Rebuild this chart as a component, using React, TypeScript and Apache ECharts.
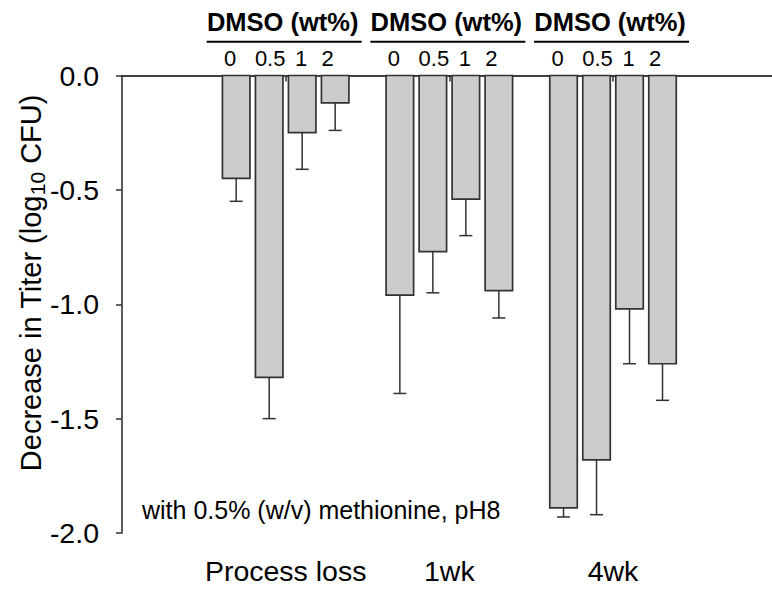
import React, { useEffect, useRef } from "react";
import * as echarts from "echarts";

const categories = ["", "Process loss", "1wk", "4wk", ""];
const groupIndex = [1, 2, 3];
const dmsoLevels = ["0", "0.5", "1", "2"];
const headerText = "DMSO (wt%)";
const meanProcess = [-0.45, -1.32, -0.25, -0.12];
const errProcess = [0.1, 0.18, 0.16, 0.12];
const mean1wk = [-0.96, -0.77, -0.54, -0.94];
const err1wk = [0.43, 0.18, 0.16, 0.12];
const mean4wk = [-1.89, -1.68, -1.02, -1.26];
const err4wk = [0.04, 0.24, 0.24, 0.16];
const yTicks = { min: -2, max: 0, interval: 0.5 };
const yTitle = "Decrease in Titer (log{sub|10} CFU)";
const note = "with 0.5% (w/v) methionine, pH8";

const FONT = '"Liberation Sans", Arial, Helvetica, sans-serif';
const AX = "#333333";

export default function App() {
  const ref = useRef<HTMLDivElement>(null);
  useEffect(() => {
    if (!ref.current) return;
    const chart = echarts.init(ref.current, undefined, { renderer: "svg" });
    const means = [meanProcess, mean1wk, mean4wk];
    const errs = [errProcess, err1wk, err4wk];
    const barData: number[][] = [];
    groupIndex.forEach((g, gi) => {
      dmsoLevels.forEach((_, li) => {
        barData.push([g, li, means[gi][li], errs[gi][li]]);
      });
    });
    const headerData = groupIndex.map((g) => [g, 0]);
    const subOffsets = [-55.5, -15.5, 15.5, 42];

    chart.setOption({
      animation: false,
      textStyle: { fontFamily: FONT },
      grid: {
        left: 122,
        top: 75.5,
        right: -4.7,
        bottom: 56,
        containLabel: false,
        outerBoundsMode: "none",
      },
      xAxis: [
        {
          type: "category",
          data: categories,
          boundaryGap: false,
          axisLine: { show: true, lineStyle: { color: AX, width: 1.6 } },
          axisTick: {
            show: true,
            length: 6,
            interval: (i: number) => i > 0 && i < categories.length - 1,
            lineStyle: { color: AX, width: 1.5 },
          },
          axisLabel: {
            interval: 0,
            color: "#000",
            fontSize: 28.5,
            margin: 23,
            fontFamily: FONT,
          },
          splitLine: { show: false },
        },
        {
          type: "value",
          position: "top",
          min: 0,
          max: 1,
          axisLine: { show: true, onZero: false, lineStyle: { color: AX, width: 1.6 } },
          axisTick: { show: false },
          axisLabel: { show: false },
          splitLine: { show: false },
        },
      ],
      yAxis: {
        type: "value",
        min: yTicks.min,
        max: yTicks.max,
        interval: yTicks.interval,
        axisLine: { show: true, onZero: false, lineStyle: { color: AX, width: 1.6 } },
        axisTick: { show: true, inside: false, length: 6, lineStyle: { color: AX, width: 1.5 } },
        axisLabel: {
          color: "#000",
          fontSize: 28.5,
          margin: 23,
          fontFamily: FONT,
          formatter: (v: number) => v.toFixed(1),
        },
        splitLine: { show: false },
      },
      series: [
        {
          type: "custom",
          xAxisIndex: 0,
          yAxisIndex: 0,
          data: barData,
          encode: { x: 0, y: 2 },
          renderItem: (params: any, api: any) => {
            const cat = api.value(0);
            const lvl = api.value(1);
            const mean = api.value(2);
            const err = api.value(3);
            const base = api.coord([cat, 0]);
            const band = api.coord([cat + 1, 0])[0] - base[0];
            const bottom = api.coord([cat, mean]);
            const errEnd = api.coord([cat, mean - err]);
            const step = band * 0.2016;
            const w = band * 0.168;
            const cx = base[0] + (lvl - 1.5) * step;
            return {
              type: "group",
              children: [
                {
                  type: "line",
                  shape: { x1: cx, y1: bottom[1], x2: cx, y2: errEnd[1] },
                  style: { stroke: AX, lineWidth: 1.5 },
                },
                {
                  type: "line",
                  shape: { x1: cx - 6.5, y1: errEnd[1], x2: cx + 6.5, y2: errEnd[1] },
                  style: { stroke: AX, lineWidth: 1.5 },
                },
                {
                  type: "rect",
                  shape: { x: cx - w / 2, y: base[1], width: w, height: bottom[1] - base[1] },
                  style: { fill: "#cccccc", stroke: AX, lineWidth: 1.7 },
                },
              ],
            };
          },
        },
        {
          type: "custom",
          xAxisIndex: 0,
          yAxisIndex: 0,
          data: headerData,
          encode: { x: 0, y: 1 },
          clip: false,
          renderItem: (params: any, api: any) => {
            const cat = api.value(0);
            const base = api.coord([cat, 0]);
            const children: any[] = [
              {
                type: "text",
                style: {
                  text: headerText,
                  x: base[0] - 3,
                  y: base[1] - 53.5,
                  align: "center",
                  verticalAlign: "middle",
                  fill: "#000",
                  fontSize: 25.5,
                  fontWeight: "bold",
                  fontFamily: FONT,
                },
              },
              {
                type: "line",
                shape: { x1: base[0] - 79, y1: base[1] - 33.8, x2: base[0] + 76, y2: base[1] - 33.8 },
                style: { stroke: "#000", lineWidth: 2 },
              },
            ];
            dmsoLevels.forEach((lv, i) => {
              children.push({
                type: "text",
                style: {
                  text: lv,
                  x: base[0] + subOffsets[i],
                  y: base[1] - 17.5,
                  align: "center",
                  verticalAlign: "middle",
                  fill: "#000",
                  fontSize: 22,
                  fontFamily: FONT,
                },
              });
            });
            return { type: "group", children };
          },
        },
      ],
      graphic: [
        {
          type: "text",
          left: 142,
          top: 497,
          style: { text: note, fill: "#000", fontSize: 25, fontFamily: FONT },
        },
        {
          type: "text",
          x: 31,
          y: 283,
          rotation: Math.PI / 2,
          style: {
            text: yTitle,
            fill: "#000",
            fontSize: 29,
            fontFamily: FONT,
            align: "center",
            verticalAlign: "middle",
            lineHeight: 34,
            rich: {
              sub: { fontSize: 21, fontFamily: FONT, fill: "#000", padding: [12, 0, 0, 0] },
            },
          },
        },
      ],
    });
    return () => chart.dispose();
  }, []);
  return (
    <div
      ref={ref}
      style={{ position: "fixed", left: 0, top: 0, width: 772, height: 589, background: "#fff" }}
    />
  );
}
